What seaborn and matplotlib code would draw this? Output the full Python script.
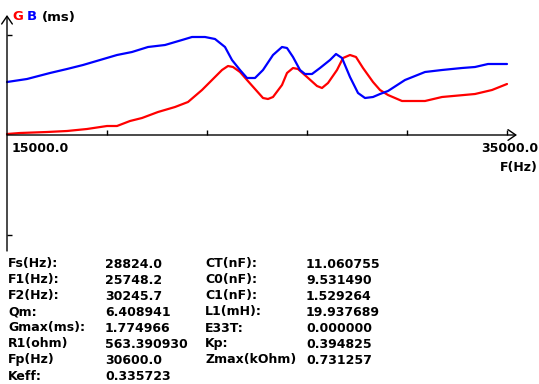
import numpy as np
import pandas as pd
import matplotlib
matplotlib.use("Agg")
import matplotlib.pyplot as plt
import seaborn as sns

# --- curve data (freq in Hz, value in axis units) ---
g_freq = [15000, 15520, 16600, 17400, 18200, 19000, 19400, 19920, 20400, 21040,
          21720, 22240, 22800, 23200, 23600, 23840, 24040, 24320, 24600, 24920,
          25240, 25440, 25640, 26000, 26200, 26440, 26640, 27000, 27400, 27600,
          27840, 28200, 28440, 28720, 28960, 29240, 29640, 29920, 30240, 30800,
          31720, 32400, 33720, 34400, 35000]
g_vals = [0.01, 0.02, 0.03, 0.04, 0.06, 0.09, 0.09, 0.14, 0.17, 0.23,
          0.28, 0.33, 0.45, 0.55, 0.65, 0.69, 0.68, 0.63, 0.55, 0.46,
          0.37, 0.36, 0.38, 0.50, 0.62, 0.67, 0.66, 0.58, 0.49, 0.47,
          0.52, 0.65, 0.77, 0.80, 0.78, 0.67, 0.53, 0.45, 0.40, 0.34,
          0.34, 0.38, 0.41, 0.45, 0.51]

b_freq = [15000, 15800, 16720, 17400, 18040, 18720, 19400, 20000, 20640, 21320,
          22000, 22400, 22920, 23320, 23720, 24000, 24320, 24600, 24920, 25240,
          25640, 26000, 26200, 26440, 26720, 26920, 27200, 27520, 27920, 28160,
          28400, 28720, 29040, 29320, 29640, 29920, 30240, 30920, 31720, 32400,
          33200, 33720, 34240, 35000]
b_vals = [0.53, 0.56, 0.62, 0.66, 0.70, 0.75, 0.80, 0.83, 0.88, 0.90,
          0.95, 0.98, 0.98, 0.96, 0.88, 0.75, 0.65, 0.57, 0.57, 0.65,
          0.80, 0.88, 0.87, 0.78, 0.65, 0.61, 0.61, 0.67, 0.75, 0.81,
          0.77, 0.58, 0.42, 0.37, 0.38, 0.41, 0.44, 0.55, 0.63, 0.65,
          0.67, 0.68, 0.71, 0.71]

x_ticks = [19000, 23000, 27000, 31000, 35000]
y_ticks = [-1, 1]
x_min_label = "15000.0"
x_max_label = "35000.0"

# --- result table ---
left_names = ["Fs(Hz):", "F1(Hz):", "F2(Hz):", "Qm:", "Gmax(ms):", "R1(ohm)", "Fp(Hz)", "Keff:"]
left_values = ["28824.0", "25748.2", "30245.7", "6.408941", "1.774966", "563.390930", "30600.0", "0.335723"]
right_names = ["CT(nF):", "C0(nF):", "C1(nF):", "L1(mH):", "E33T:", "Kp:", "Zmax(kOhm)"]
right_values = ["11.060755", "9.531490", "1.529264", "19.937689", "0.000000", "0.394825", "0.731257"]

df = pd.concat([
    pd.DataFrame({"freq": g_freq, "val": g_vals, "curve": "G"}),
    pd.DataFrame({"freq": b_freq, "val": b_vals, "curve": "B"}),
])

sns.set_style("white")
plt.rcParams["font.family"] = ["DejaVu Sans"]
plt.rcParams["font.weight"] = "bold"

W, H = 539, 384
fig = plt.figure(figsize=(W / 100, H / 100), dpi=100)
fig.patch.set_facecolor("white")
ax = fig.add_axes([0, 0, 1, 1])
ax.set_facecolor("white")

# pixel mapping: x=7px -> 15000 Hz, 40 Hz per px; y=135px -> 0, 100 px per unit
ax.set_xlim(15000 - 7 * 40, 15000 + (W - 7) * 40)
ax.set_ylim((135 - H) / 100, 135 / 100)

sns.lineplot(data=df, x="freq", y="val", hue="curve",
             palette={"G": "#ff0000", "B": "#0000ff"},
             linewidth=1.6, legend=False, ax=ax, estimator=None)

# axes drawn like the instrument screen
for s in ax.spines.values():
    s.set_visible(False)
ax.spines["bottom"].set_position(("data", 0))
ax.spines["left"].set_position(("data", 15000))
ax.set_xticks(x_ticks)
ax.set_yticks(y_ticks)
ax.tick_params(axis="both", direction="in", length=3.5, width=1, color="black",
               bottom=True, left=True, top=False, right=False,
               labelbottom=False, labelleft=False)
ax.set_xlabel("")
ax.set_ylabel("")

arrow = dict(arrowstyle="->,head_length=0.8,head_width=0.55", lw=1, color="black",
             mutation_scale=7, shrinkA=0, shrinkB=0)
ax.annotate("", xy=(35400, 0), xytext=(15000, 0), arrowprops=arrow)
ax.annotate("", xy=(15000, 1.2), xytext=(15000, -1.16), arrowprops=arrow)


def put(x, y, s, ha="left", color="black", size=9):
    fig.text(x / W, 1 - y / H, s, ha=ha, va="center", color=color,
             fontsize=size, fontweight="bold")


put(12, 17, "G", color="#ff0000", size=9.5)
put(27, 17, "B", color="#0000ff", size=9.5)
put(42, 17, "(ms)", size=9.5)

put(12, 149, x_min_label)
put(538, 149, x_max_label, ha="right")
put(538, 168, "F(Hz)", ha="right")

for i, (n, v) in enumerate(zip(left_names, left_values)):
    put(8, 264 + 16 * i, n)
    put(105, 264 + 16 * i, v)
for i, (n, v) in enumerate(zip(right_names, right_values)):
    put(205, 264 + 16 * i, n)
    put(306, 264 + 16 * i, v)

fig.savefig("out.png", dpi=100, facecolor="white")
